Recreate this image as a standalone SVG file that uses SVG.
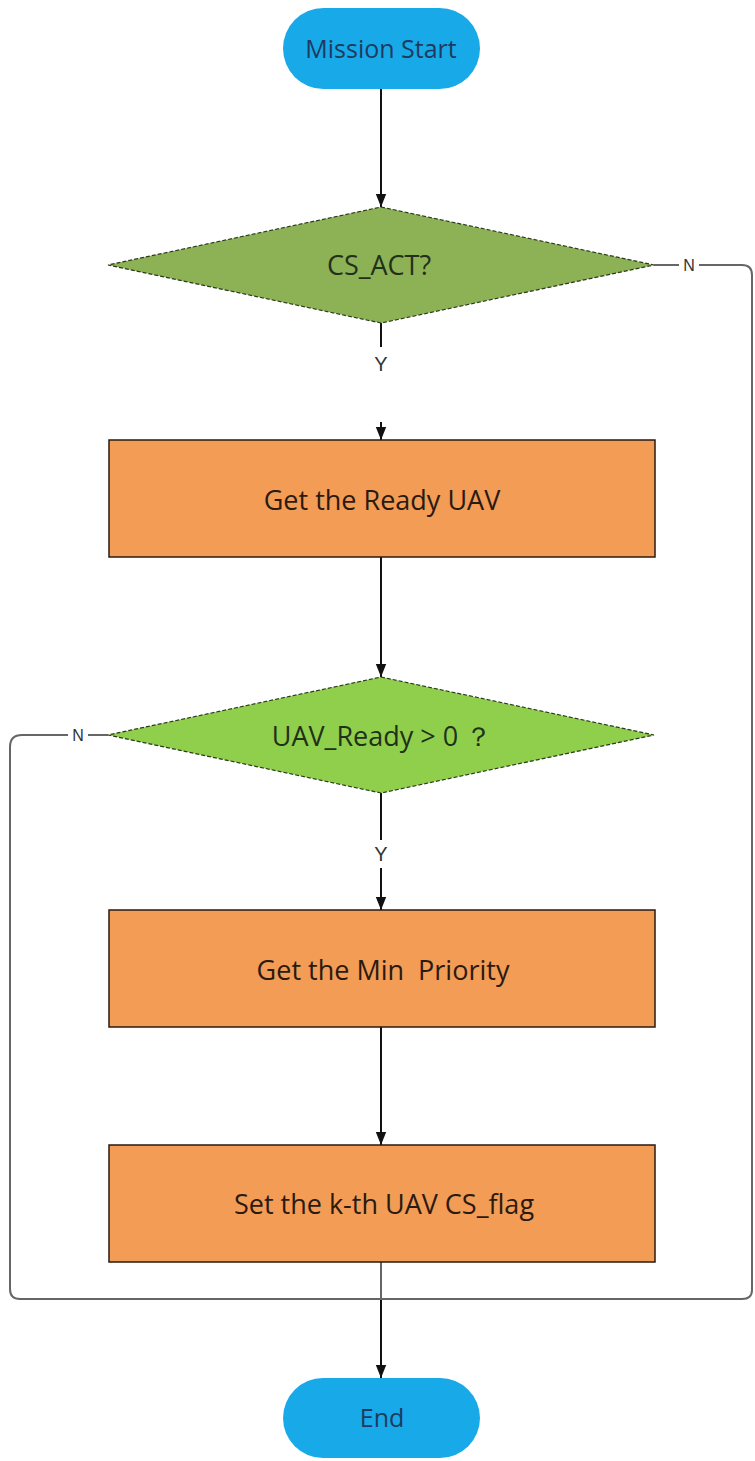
<svg xmlns="http://www.w3.org/2000/svg" width="755" height="1461" viewBox="0 0 755 1461">
  <style>
    .term { fill: #18aae8; }
    .term-text { font-family: "Open Sans", "Liberation Sans", sans-serif; font-size: 25px; fill: #1f3a60; text-anchor: middle; dominant-baseline: central; }
    .dec1 { fill: #8db255; stroke: #2a3a1a; stroke-width: 1.2; stroke-dasharray: 4 2; }
    .dec2 { fill: #8fcf4c; stroke: #2a3a1a; stroke-width: 1.2; stroke-dasharray: 4 2; }
    .dec-text { font-family: "Open Sans", "Liberation Sans", sans-serif; font-size: 27px; fill: #22301a; text-anchor: middle; dominant-baseline: central; }
    .proc { fill: #f29c56; stroke: #2b1a10; stroke-width: 1.5; }
    .proc-text { font-family: "Open Sans", "Liberation Sans", sans-serif; font-size: 27px; fill: #2b1a10; text-anchor: middle; dominant-baseline: central; }
    .flow { stroke: #111; stroke-width: 2; fill: none; }
    .loop { stroke: #666; stroke-width: 2; fill: none; }
    .lbl { font-family: "Liberation Sans", sans-serif; font-size: 20px; fill: #333; text-anchor: middle; dominant-baseline: central; }
    .lbl-n { font-family: "Liberation Sans", sans-serif; font-size: 16px; fill: #333; text-anchor: middle; dominant-baseline: central; }
  </style>
  <defs>
    <marker id="arrowBig" viewBox="0 0 10 10" refX="10" refY="5" markerWidth="13" markerHeight="13" markerUnits="userSpaceOnUse" orient="auto">
      <path d="M0,1 L10,5 L0,9 z" fill="#111"/>
    </marker>
  </defs>

  <rect width="755" height="1461" fill="#ffffff"/>

  <g id="connectors">
    <!-- start to first decision -->
    <line class="flow" x1="381" y1="89" x2="381" y2="207" marker-end="url(#arrowBig)"/>
    <!-- Y branch of CS_ACT? -->
    <line class="flow" x1="381" y1="323" x2="381" y2="347"/>
    <line class="flow" x1="381" y1="422" x2="381" y2="440" marker-end="url(#arrowBig)"/>
    <!-- ready UAV to second decision -->
    <line class="flow" x1="381" y1="557" x2="381" y2="677" marker-end="url(#arrowBig)"/>
    <!-- Y branch of UAV_Ready -->
    <line class="flow" x1="381" y1="793" x2="381" y2="840"/>
    <line class="flow" x1="381" y1="868" x2="381" y2="910" marker-end="url(#arrowBig)"/>
    <!-- min priority to set flag -->
    <line class="flow" x1="381" y1="1027" x2="381" y2="1145" marker-end="url(#arrowBig)"/>
    <!-- set flag down to merge -->
    <line class="loop" x1="381" y1="1262" x2="381" y2="1300"/>
    <!-- N branch of CS_ACT?, around the right side -->
    <path class="loop" d="M654,265 H679 M699,265 H742 Q752,265 752,275 V1290 Q752,1299 742,1299 H381"/>
    <!-- N branch of UAV_Ready, around the left side -->
    <path class="loop" d="M108,735 H88 M68,735 H22 Q10,735 10,747 V1289 Q10,1299 20,1299 H381"/>
    <!-- merge to end -->
    <line class="flow" x1="381" y1="1300" x2="381" y2="1378" marker-end="url(#arrowBig)"/>
    <text class="lbl-n" x="689" y="265">N</text>
    <text class="lbl-n" x="78" y="735">N</text>
    <text class="lbl" x="381" y="364">Y</text>
    <text class="lbl" x="381" y="854">Y</text>
  </g>

  <g id="start">
    <rect class="term" x="283" y="8" width="197" height="81" rx="40.5" ry="40.5"/>
    <text class="term-text" x="381" y="48">Mission Start</text>
  </g>

  <g id="cs-act">
    <polygon class="dec1" points="381,207 654,265 381,323 108,265"/>
    <text class="dec-text" x="379" y="264">CS_ACT?</text>
  </g>

  <g id="get-ready-uav">
    <rect class="proc" x="109" y="440" width="546" height="117"/>
    <text class="proc-text" x="382" y="499">Get the Ready UAV</text>
  </g>

  <g id="uav-ready">
    <polygon class="dec2" points="381,677 654,735 381,793 108,735"/>
    <text class="dec-text" x="382" y="735">UAV_Ready &gt;  0 ？</text>
  </g>

  <g id="get-min-priority">
    <rect class="proc" x="109" y="910" width="546" height="117"/>
    <text class="proc-text" x="383" y="969" xml:space="preserve">Get the Min  Priority</text>
  </g>

  <g id="set-cs-flag">
    <rect class="proc" x="109" y="1145" width="546" height="117"/>
    <text class="proc-text" x="384" y="1203">Set the k-th UAV CS_flag</text>
  </g>

  <g id="end">
    <rect class="term" x="283" y="1378" width="197" height="80" rx="40" ry="40"/>
    <text class="term-text" x="382" y="1417">End</text>
  </g>
</svg>
